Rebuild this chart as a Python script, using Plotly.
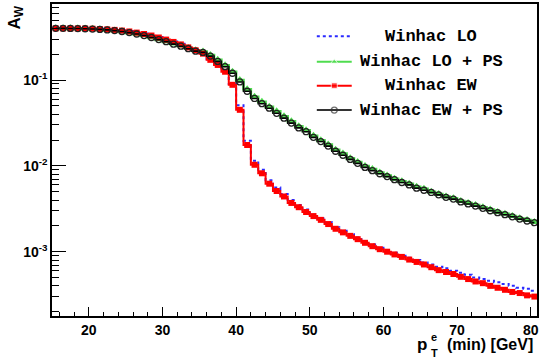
import plotly.graph_objects as go

# ---------------- data (1 GeV bins, lower edges 15..80) ----------------
bin_low = list(range(15, 81))

winhac_lo = [0.404, 0.404, 0.404, 0.403, 0.402, 0.400, 0.397, 0.393, 0.388, 0.381,
             0.372, 0.361, 0.348, 0.334, 0.317, 0.300, 0.282, 0.264, 0.244, 0.226,
             0.206, 0.175, 0.153, 0.128, 0.090, 0.051, 0.0196, 0.0115, 0.0090, 0.0068,
             0.0056, 0.0047, 0.0040, 0.0035, 0.0031, 0.0027, 0.00245, 0.0022, 0.00193, 0.00175,
             0.00160, 0.00146, 0.00133, 0.00121, 0.00111, 0.00104, 0.00097, 0.00090, 0.00085, 0.00080,
             0.00075, 0.00071, 0.00067, 0.00064, 0.00060, 0.00057, 0.00054, 0.00050, 0.00048, 0.00046,
             0.00044, 0.00042, 0.00040, 0.00038, 0.00037, 0.00035]

winhac_lo_ps = [0.402, 0.402, 0.401, 0.400, 0.398, 0.395, 0.391, 0.386, 0.379, 0.370,
                0.359, 0.346, 0.332, 0.315, 0.298, 0.283, 0.267, 0.252, 0.236, 0.222,
                0.215, 0.196, 0.172, 0.149, 0.125, 0.100, 0.078, 0.064, 0.056, 0.049,
                0.0432, 0.0378, 0.0330, 0.0290, 0.0260, 0.0224, 0.0199, 0.0177, 0.0154, 0.0139,
                0.0123, 0.0111, 0.0100, 0.0092, 0.0084, 0.0077, 0.0071, 0.0066, 0.0062, 0.0057,
                0.0054, 0.0050, 0.0047, 0.0044, 0.0042, 0.0039, 0.0037, 0.0035, 0.0033, 0.0031,
                0.0029, 0.00277, 0.0026, 0.00246, 0.00234, 0.00222]

winhac_ew = [0.400, 0.400, 0.400, 0.399, 0.398, 0.396, 0.393, 0.389, 0.384, 0.377,
             0.368, 0.357, 0.344, 0.330, 0.313, 0.296, 0.278, 0.260, 0.240, 0.222,
             0.203, 0.172, 0.150, 0.125, 0.088, 0.045, 0.0175, 0.0103, 0.0082, 0.0062,
             0.0051, 0.0044, 0.0037, 0.0033, 0.0029, 0.0026, 0.00235, 0.0021, 0.00185, 0.00168,
             0.00153, 0.00140, 0.00127, 0.00116, 0.00107, 0.00100, 0.00093, 0.00087, 0.00081, 0.00076,
             0.00071, 0.00066, 0.00061, 0.00058, 0.00055, 0.00051, 0.00048, 0.00045, 0.00043, 0.00040,
             0.00038, 0.00036, 0.00034, 0.00033, 0.00031, 0.00030]

winhac_ew_ps = [0.400, 0.400, 0.399, 0.398, 0.396, 0.393, 0.389, 0.384, 0.377, 0.368,
                0.357, 0.344, 0.330, 0.313, 0.296, 0.280, 0.262, 0.248, 0.232, 0.217,
                0.210, 0.190, 0.165, 0.143, 0.120, 0.095, 0.074, 0.061, 0.053, 0.047,
                0.041, 0.036, 0.0315, 0.0277, 0.0250, 0.0215, 0.0192, 0.0170, 0.0148, 0.0133,
                0.0119, 0.0107, 0.0096, 0.0088, 0.0081, 0.0075, 0.0069, 0.0064, 0.0060, 0.0055,
                0.0052, 0.0049, 0.0046, 0.0043, 0.0041, 0.0038, 0.0036, 0.0034, 0.0032, 0.0030,
                0.00285, 0.0027, 0.00255, 0.0024, 0.00228, 0.00218]

series_names = ["Winhac LO", "Winhac LO + PS", "Winhac EW", "Winhac EW + PS"]
x_ticks = [20, 30, 40, 50, 60, 70, 80]
y_ticks = [1e-3, 1e-2, 1e-1]
y_ticktext = ["10<sup>-3</sup>", "10<sup>-2</sup>", "10<sup>-1</sup>"]

# ---------------- styles ----------------
BLUE = "#2a2aff"
GREEN = "#4fdc4f"
RED = "#ff0000"
BLACK = "#000000"

centers = [b + 0.5 for b in bin_low]

fig = go.Figure()

fig.add_trace(go.Scatter(x=centers, y=winhac_lo, mode="lines", line_shape="hvh",
                         line=dict(color=BLUE, width=2, dash="3px,3px"), showlegend=False))
fig.add_trace(go.Scatter(x=centers, y=winhac_lo_ps, mode="lines+markers", line_shape="hvh",
                         line=dict(color=GREEN, width=2.5),
                         marker=dict(symbol="triangle-up", size=8, color=GREEN), showlegend=False))
fig.add_trace(go.Scatter(x=centers, y=winhac_ew, mode="lines+markers", line_shape="hvh",
                         line=dict(color=RED, width=2),
                         marker=dict(symbol="square", size=6, color=RED), showlegend=False))
fig.add_trace(go.Scatter(x=centers, y=winhac_ew_ps, mode="lines+markers", line_shape="hvh",
                         line=dict(color=BLACK, width=1.6),
                         marker=dict(symbol="circle-open", size=6, color="#222222",
                                     line=dict(width=1.3)), showlegend=False))

# ---------------- custom legend (on an invisible overlay axis 0..1) ----------------
leg_rows = [0.897, 0.815, 0.738, 0.660]
lx0, lxm, lx1 = 0.546, 0.582, 0.618
leg_styles = [
    dict(line=dict(color=BLUE, width=2, dash="3px,3px"), marker=dict(size=[0, 0, 0], color=BLUE)),
    dict(line=dict(color=GREEN, width=2), marker=dict(symbol="triangle-up", size=[0, 6, 0], color=GREEN)),
    dict(line=dict(color=RED, width=2), marker=dict(symbol="square", size=[0, 6, 0], color=RED)),
    dict(line=dict(color="#333333", width=2),
         marker=dict(symbol="circle-open", size=[0, 6, 0], color="#333333", line=dict(width=1.3))),
]
for yy, st in zip(leg_rows, leg_styles):
    fig.add_trace(go.Scatter(x=[lx0, lxm, lx1], y=[yy, yy, yy], mode="lines+markers",
                             xaxis="x2", yaxis="y2", showlegend=False, hoverinfo="skip", **st))
for yy, name in zip(leg_rows, series_names):
    fig.add_annotation(x=0.782, y=yy, xref="x2", yref="y2", text="<b>%s</b>" % name,
                       showarrow=False, xanchor="center", yanchor="middle",
                       font=dict(family="Liberation Mono", size=17, color="black"))

minor_y = [k * 10 ** e for e in (-4, -3, -2, -1) for k in range(2, 10)]

fig.update_layout(
    width=540, height=358,
    margin=dict(l=52, r=1, t=4, b=42, pad=0),
    paper_bgcolor="white", plot_bgcolor="white",
    font=dict(family="Liberation Sans", size=14, color="black"),
    xaxis=dict(range=[15, 80.85], showgrid=False, zeroline=False,
               showline=True, linecolor="black", linewidth=1.5, mirror=True,
               ticks="inside", ticklen=9, tickwidth=1.2, tickcolor="black",
               tickvals=x_ticks, ticktext=["<b>%d</b>" % v for v in x_ticks],
               tickfont=dict(size=14),
               minor=dict(dtick=2, ticks="inside", ticklen=4.5, tickwidth=1.2, tickcolor="black")),
    yaxis=dict(type="log", range=[-3.749, -0.114], showgrid=False, zeroline=False,
               showline=True, linecolor="black", linewidth=1.5, mirror=True,
               ticks="inside", ticklen=14, tickwidth=1.2, tickcolor="black",
               tickvals=y_ticks, ticktext=["<b>%s</b>" % t for t in y_ticktext],
               tickfont=dict(size=14),
               minor=dict(tickvals=minor_y, ticks="inside", ticklen=7, tickwidth=1.2, tickcolor="black")),
    xaxis2=dict(range=[0, 1], overlaying="x", anchor="y2", visible=False),
    yaxis2=dict(range=[0, 1], overlaying="y", anchor="x2", visible=False),
)

# axis titles
fig.add_annotation(xref="paper", yref="paper", x=-0.0739, y=0.957, text="<b>A<sub>W</sub></b>",
                   textangle=-90, showarrow=False, xanchor="center", yanchor="middle",
                   font=dict(size=17))
fig.add_annotation(xref="paper", yref="paper", x=0.996, y=1 - (345 - 4) / 312, text="<b>(min) [GeV]</b>",
                   showarrow=False, xanchor="right", yanchor="middle", font=dict(size=16))
fig.add_annotation(xref="paper", yref="paper", x=(431 - 52) / 487, y=1 - (345 - 4) / 312, text="<b>p</b>",
                   showarrow=False, xanchor="right", yanchor="middle", font=dict(size=17))
fig.add_annotation(xref="paper", yref="paper", x=(431 - 52) / 487, y=1 - (337 - 4) / 312, text="<b>e</b>",
                   showarrow=False, xanchor="left", yanchor="middle", font=dict(size=11))
fig.add_annotation(xref="paper", yref="paper", x=(431 - 52) / 487, y=1 - (353 - 4) / 312, text="<b>T</b>",
                   showarrow=False, xanchor="left", yanchor="middle", font=dict(size=11))

fig.write_html("out.html")
